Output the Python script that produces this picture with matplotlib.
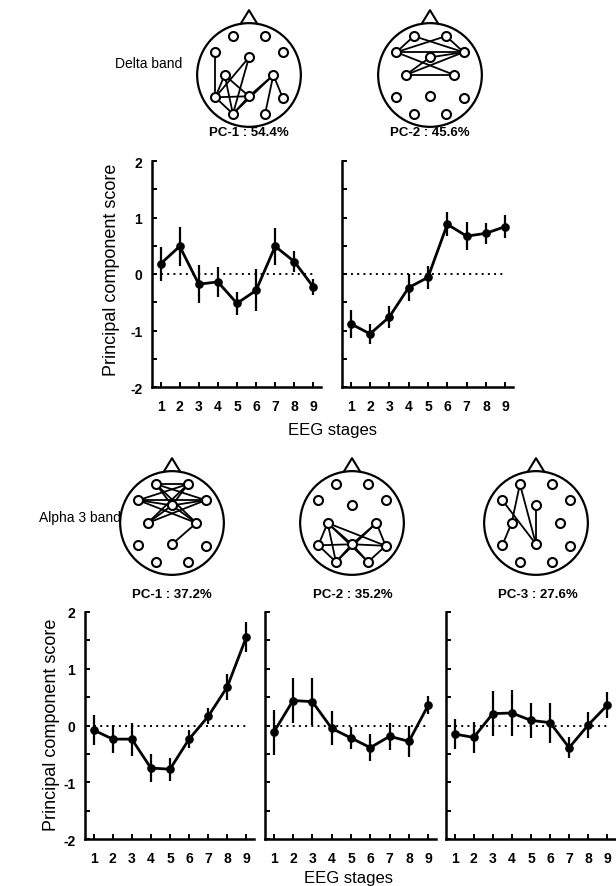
import matplotlib
matplotlib.use("Agg")
import matplotlib.pyplot as plt
from matplotlib.patches import Circle

plt.rcParams['font.family'] = ['Liberation Sans', 'DejaVu Sans']

# ---------------- data ----------------
stages = [1, 2, 3, 4, 5, 6, 7, 8, 9]
stage_labels = ['1', '2', '3', '4', '5', '6', '7', '8', '9']
y_major = [-2, -1, 0, 1, 2]
y_major_labels = ['-2', '-1', '0', '1', '2']
y_minor = [-1.5, -0.5, 0.5, 1.5]

delta_pc1 = [0.18, 0.49, -0.18, -0.14, -0.52, -0.29, 0.49, 0.22, -0.23]
delta_pc1_err = [0.30, 0.35, 0.34, 0.27, 0.21, 0.37, 0.33, 0.18, 0.15]
delta_pc2 = [-0.88, -1.06, -0.76, -0.24, -0.06, 0.88, 0.67, 0.72, 0.84]
delta_pc2_err = [0.25, 0.18, 0.20, 0.24, 0.20, 0.21, 0.25, 0.19, 0.20]

alpha_pc1 = [-0.08, -0.24, -0.24, -0.75, -0.77, -0.24, 0.16, 0.68, 1.56]
alpha_pc1_err = [0.26, 0.25, 0.29, 0.25, 0.20, 0.16, 0.14, 0.23, 0.27]
alpha_pc2 = [-0.12, 0.44, 0.42, -0.05, -0.22, -0.39, -0.19, -0.28, 0.36]
alpha_pc2_err = [0.40, 0.40, 0.41, 0.30, 0.20, 0.24, 0.24, 0.28, 0.16]
alpha_pc3 = [-0.15, -0.21, 0.21, 0.22, 0.09, 0.05, -0.39, 0.01, 0.36]
alpha_pc3_err = [0.26, 0.27, 0.40, 0.41, 0.31, 0.35, 0.19, 0.23, 0.23]

delta_titles = ['PC-1 : 54.4%', 'PC-2 : 45.6%']
alpha_titles = ['PC-1 : 37.2%', 'PC-2 : 35.2%', 'PC-3 : 27.6%']

# electrode montage (normalised head coordinates)
electrodes = {
    'Fp1': (-0.31, 0.75), 'Fp2': (0.31, 0.75),
    'F7': (-0.65, 0.44), 'Fz': (0.0, 0.34), 'F8': (0.65, 0.44),
    'C3': (-0.47, 0.0), 'C4': (0.47, 0.0),
    'T5': (-0.65, -0.43), 'Pz': (0.0, -0.41), 'T6': (0.65, -0.44),
    'O1': (-0.31, -0.75), 'O2': (0.31, -0.75),
}

delta_pc1_edges = [('F7', 'T5'), ('C3', 'T5'), ('C3', 'Pz'), ('C3', 'O1'),
                   ('Fz', 'T5'), ('Fz', 'O1'), ('T5', 'Pz'), ('T5', 'O1'),
                   ('Pz', 'O1'), ('C4', 'O1'), ('C4', 'Pz'), ('C4', 'T6'),
                   ('C4', 'O2')]
delta_pc2_edges = [('Fp1', 'F7'), ('Fp1', 'F8'), ('Fp2', 'F7'), ('Fp2', 'F8'),
                   ('F7', 'F8'), ('F7', 'C4'), ('F8', 'C3'), ('C3', 'C4'),
                   ('Fz', 'F8'), ('Fz', 'C3')]
alpha_pc1_edges = [('Fp1', 'Fp2'), ('Fp1', 'Fz'), ('Fp2', 'Fz'), ('Fp1', 'F8'),
                   ('Fp2', 'F7'), ('F7', 'F8'), ('F7', 'Fz'), ('Fz', 'F8'),
                   ('F7', 'C4'), ('F8', 'C3'), ('C3', 'Fz'), ('Fz', 'C4'),
                   ('Pz', 'C4'), ('Fp1', 'C4'), ('Fp2', 'C3')]
alpha_pc2_edges = [('C3', 'T5'), ('C3', 'O1'), ('C3', 'Pz'), ('C3', 'T6'),
                   ('C3', 'O2'), ('C4', 'Pz'), ('C4', 'T6'), ('C4', 'O1'),
                   ('T5', 'Pz'), ('Pz', 'T6'), ('T5', 'O1'), ('Pz', 'O1'),
                   ('Pz', 'O2'), ('O2', 'T6')]
alpha_pc3_edges = [('Fp1', 'C3'), ('C3', 'T5'), ('Fp1', 'Pz'), ('F7', 'Pz'),
                   ('Fz', 'Pz')]

# ---------------- figure ----------------
W, H = 616, 887
fig = plt.figure(figsize=(W / 100, H / 100), dpi=100)


def px_axes(left, top, right, bottom):
    return fig.add_axes([left / W, 1 - bottom / H, (right - left) / W, (bottom - top) / H])


def score_panel(ax, vals, errs, show_y):
    ax.set_xlim(0.55, 9.4)
    ax.set_ylim(-2, 2)
    ax.hlines(0, stages[0], stages[-1], colors='black', linestyles=(0, (1, 2.2)), lw=1.4)
    ax.errorbar(stages, vals, yerr=errs, color='black', lw=2.0, elinewidth=1.6,
                capsize=0, marker='o', ms=5.2, clip_on=False)
    for s in ['top', 'right']:
        ax.spines[s].set_visible(False)
    for s in ['left', 'bottom']:
        ax.spines[s].set_linewidth(1.8)
    ax.set_xticks(stages)
    ax.set_xticklabels(stage_labels, fontweight='bold', fontsize=10)
    ax.set_yticks(y_major)
    ax.set_yticks(y_minor, minor=True)
    ax.set_yticklabels(y_major_labels, fontweight='bold', fontsize=10)
    ax.tick_params(axis='both', which='both', direction='in', length=3.5, width=1.4)
    ax.tick_params(axis='x', pad=9)
    ax.tick_params(axis='y', pad=7)
    if not show_y:
        ax.tick_params(axis='y', labelleft=False)
    ax.patch.set_alpha(0)


def head(cx, cy, edges):
    size = 140
    ax = px_axes(cx - size / 2, cy - size / 2, cx + size / 2, cy + size / 2)
    ax.set_xlim(-1.35, 1.35)
    ax.set_ylim(-1.35, 1.35)
    ax.set_aspect('equal')
    ax.axis('off')
    ax.add_patch(Circle((0, 0), 1.0, fill=False, lw=1.6, color='black'))
    ax.plot([-0.16, 0, 0.16], [0.987, 1.25, 0.987], color='black', lw=1.5)
    for a, b in edges:
        xa, ya = electrodes[a]
        xb, yb = electrodes[b]
        ax.plot([xa, xb], [ya, yb], color='black', lw=1.3)
    xs = [v[0] for v in electrodes.values()]
    ys = [v[1] for v in electrodes.values()]
    ax.scatter(xs, ys, s=42, facecolor='white', edgecolor='black', lw=1.5, zorder=3)


# top row (delta band)
head(249, 76, delta_pc1_edges)
head(430, 76, delta_pc2_edges)
fig.text(182 / W, 1 - 64 / H, 'Delta band', ha='right', va='center', fontsize=10)
fig.text(249 / W, 1 - 133 / H, delta_titles[0], ha='center', va='center', fontsize=9.5, fontweight='bold')
fig.text(430 / W, 1 - 133 / H, delta_titles[1], ha='center', va='center', fontsize=9.5, fontweight='bold')

ax1 = px_axes(152, 162, 321, 388)
score_panel(ax1, delta_pc1, delta_pc1_err, True)
ax2 = px_axes(342, 162, 513, 388)
score_panel(ax2, delta_pc2, delta_pc2_err, False)
fig.text(112 / W, 1 - 270 / H, 'Principal component score', rotation=90,
         ha='center', va='center', fontsize=13)
fig.text(332 / W, 1 - 431 / H, 'EEG stages', ha='center', va='center', fontsize=12)

# bottom row (alpha 3 band)
head(172, 524, alpha_pc1_edges)
head(352, 524, alpha_pc2_edges)
head(536, 524, alpha_pc3_edges)
fig.text(121 / W, 1 - 518 / H, 'Alpha 3 band', ha='right', va='center', fontsize=10)
for cx, t in zip([172, 353, 538], alpha_titles):
    fig.text(cx / W, 1 - 595 / H, t, ha='center', va='center', fontsize=9.5, fontweight='bold')

ax3 = px_axes(85, 613, 254, 840)
score_panel(ax3, alpha_pc1, alpha_pc1_err, True)
ax4 = px_axes(265, 613, 436, 840)
score_panel(ax4, alpha_pc2, alpha_pc2_err, False)
ax5 = px_axes(446, 613, 615, 840)
score_panel(ax5, alpha_pc3, alpha_pc3_err, False)
fig.text(52 / W, 1 - 725 / H, 'Principal component score', rotation=90,
         ha='center', va='center', fontsize=13)
fig.text(349 / W, 1 - 879 / H, 'EEG stages', ha='center', va='center', fontsize=12)

fig.savefig('out.png', dpi=100, facecolor='white')
